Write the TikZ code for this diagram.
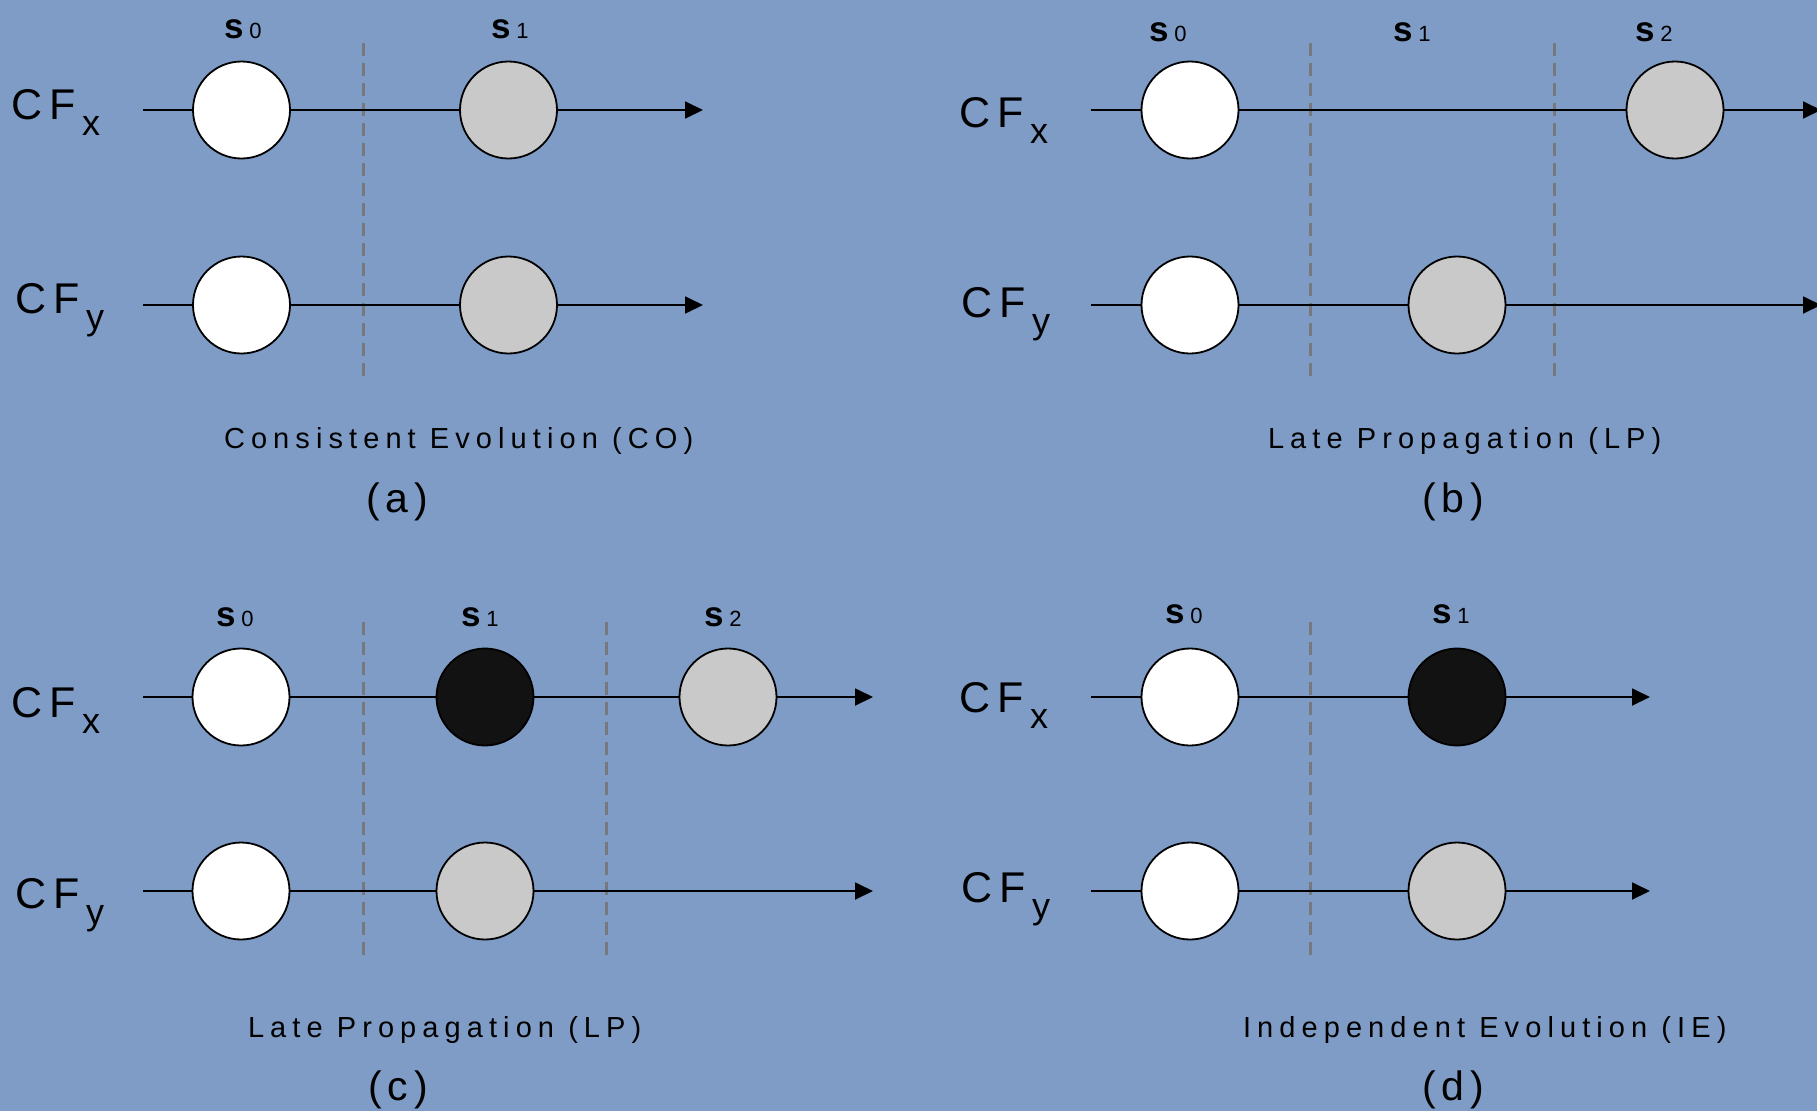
\documentclass[tikz,border=0pt]{standalone}
\usepackage{fontspec}
\setmainfont{Liberation Sans}
\newfontfamily\capfont[LetterSpace=21]{Liberation Sans}
\newfontfamily\cffont[LetterSpace=18]{Liberation Sans}
\newfontfamily\tagfont[LetterSpace=15]{Liberation Sans}
\newfontfamily\statefont{Liberation Sans}
\usetikzlibrary{arrows.meta}

\definecolor{bgblue}{RGB}{126,156,197}
\definecolor{stategray}{RGB}{200,201,200}
\definecolor{stateblack}{RGB}{18,18,18}
\definecolor{dashgray}{RGB}{118,120,125}

% state label such as s0, s1, s2
\newcommand\stlabel[1]{{\statefont\bfseries\fontsize{35}{35}\selectfont s}\kern6pt{\statefont\fontsize{22}{22}\selectfont #1}}
% clone fragment label CF with its index
\newcommand\cflabel[1]{{\cffont\fontsize{43}{43}\selectfont CF\kern6pt\raisebox{-16pt}{\fontsize{36}{36}\selectfont #1}}}

\tikzset{
  cstate/.style={circle, draw=black, line width=1.8pt, minimum size=97pt, inner sep=0pt, outer sep=0pt},
  fresh/.style={cstate, fill=white},
  changed/.style={cstate, fill=stategray},
  diverged/.style={cstate, fill=stateblack},
  flow/.style={line width=1.8pt, draw=black},
  flowend/.style={flow, -{Triangle[length=18pt,width=17pt]}},
  epoch/.style={draw=dashgray, line width=3pt, dash pattern=on 13pt off 7pt},
  txt/.style={inner sep=0pt, outer sep=0pt, anchor=base west, text=black},
  caption/.style={txt, font=\capfont\fontsize{29}{29}\selectfont},
  tag/.style={txt, font=\tagfont\fontsize{41}{41}\selectfont},
}

\begin{document}
\begin{tikzpicture}[x=1pt,y=-1pt]
% background
\clip (0,0) rectangle (1817,1111);
\fill[bgblue] (0,0) rectangle (1817,1111);

% ---------------- (a) Consistent Evolution ----------------
\coordinate (a-d1t) at (363,43);  \coordinate (a-d1b) at (363,380);
\draw[epoch] (a-d1t) -- (a-d1b);
\node[fresh]   (a-x0) at (241.5,110) {};
\node[changed] (a-x1) at (508.5,110) {};
\node[fresh]   (a-y0) at (241.5,305) {};
\node[changed] (a-y1) at (508.5,305) {};
\coordinate (a-xs) at (143,110); \coordinate (a-xe) at (703,110);
\coordinate (a-ys) at (143,305); \coordinate (a-ye) at (703,305);
\draw[flow] (a-xs) -- (a-x0); \draw[flow] (a-x0) -- (a-x1); \draw[flowend] (a-x1) -- (a-xe);
\draw[flow] (a-ys) -- (a-y0); \draw[flow] (a-y0) -- (a-y1); \draw[flowend] (a-y1) -- (a-ye);
\node[txt] (a-s0) at (224,38) {\stlabel{0}};
\node[txt] (a-s1) at (491,38) {\stlabel{1}};
\node[txt] (a-cfx) at (11,119) {\cflabel{x}};
\node[txt] (a-cfy) at (15,313) {\cflabel{y}};
\node[caption] (a-cap) at (224,448) {Consistent Evolution (CO)};
\node[tag] (a-tag) at (366,512) {(a)};

% ---------------- (b) Late Propagation ----------------
\coordinate (b-d1t) at (1310,43);  \coordinate (b-d1b) at (1310,380);
\coordinate (b-d2t) at (1554,43);  \coordinate (b-d2b) at (1554,380);
\draw[epoch] (b-d1t) -- (b-d1b);
\draw[epoch] (b-d2t) -- (b-d2b);
\node[fresh]   (b-x0) at (1190,110) {};
\node[changed] (b-x2) at (1675,110) {};
\node[fresh]   (b-y0) at (1190,305) {};
\node[changed] (b-y1) at (1457,305) {};
\coordinate (b-xs) at (1091,110); \coordinate (b-xe) at (1821,110);
\coordinate (b-ys) at (1091,305); \coordinate (b-ye) at (1821,305);
\draw[flow] (b-xs) -- (b-x0); \draw[flow] (b-x0) -- (b-x2); \draw[flowend] (b-x2) -- (b-xe);
\draw[flow] (b-ys) -- (b-y0); \draw[flow] (b-y0) -- (b-y1); \draw[flowend] (b-y1) -- (b-ye);
\node[txt] (b-s0) at (1149,41) {\stlabel{0}};
\node[txt] (b-s1) at (1393,41) {\stlabel{1}};
\node[txt] (b-s2) at (1635,41) {\stlabel{2}};
\node[txt] (b-cfx) at (959,127) {\cflabel{x}};
\node[txt] (b-cfy) at (961,317) {\cflabel{y}};
\node[caption] (b-cap) at (1268,448) {Late Propagation (LP)};
\node[tag] (b-tag) at (1422,512) {(b)};

% ---------------- (c) Late Propagation ----------------
\coordinate (c-d1t) at (363,622);  \coordinate (c-d1b) at (363,958);
\coordinate (c-d2t) at (606,622);  \coordinate (c-d2b) at (606,958);
\draw[epoch] (c-d1t) -- (c-d1b);
\draw[epoch] (c-d2t) -- (c-d2b);
\node[fresh]    (c-x0) at (241,697) {};
\node[diverged] (c-x1) at (485,697) {};
\node[changed]  (c-x2) at (728,697) {};
\node[fresh]    (c-y0) at (241,891) {};
\node[changed]  (c-y1) at (485,891) {};
\coordinate (c-xs) at (143,697); \coordinate (c-xe) at (873,697);
\coordinate (c-ys) at (143,891); \coordinate (c-ye) at (873,891);
\draw[flow] (c-xs) -- (c-x0); \draw[flow] (c-x0) -- (c-x1); \draw[flow] (c-x1) -- (c-x2); \draw[flowend] (c-x2) -- (c-xe);
\draw[flow] (c-ys) -- (c-y0); \draw[flow] (c-y0) -- (c-y1); \draw[flowend] (c-y1) -- (c-ye);
\node[txt] (c-s0) at (216,626) {\stlabel{0}};
\node[txt] (c-s1) at (461,626) {\stlabel{1}};
\node[txt] (c-s2) at (704,626) {\stlabel{2}};
\node[txt] (c-cfx) at (11,717) {\cflabel{x}};
\node[txt] (c-cfy) at (15,908) {\cflabel{y}};
\node[caption] (c-cap) at (248,1037) {Late Propagation (LP)};
\node[tag] (c-tag) at (368,1100) {(c)};

% ---------------- (d) Independent Evolution ----------------
\coordinate (d-d1t) at (1310,622);  \coordinate (d-d1b) at (1310,958);
\draw[epoch] (d-d1t) -- (d-d1b);
\node[fresh]    (d-x0) at (1190,697) {};
\node[diverged] (d-x1) at (1457,697) {};
\node[fresh]    (d-y0) at (1190,891) {};
\node[changed]  (d-y1) at (1457,891) {};
\coordinate (d-xs) at (1091,697); \coordinate (d-xe) at (1650,697);
\coordinate (d-ys) at (1091,891); \coordinate (d-ye) at (1650,891);
\draw[flow] (d-xs) -- (d-x0); \draw[flow] (d-x0) -- (d-x1); \draw[flowend] (d-x1) -- (d-xe);
\draw[flow] (d-ys) -- (d-y0); \draw[flow] (d-y0) -- (d-y1); \draw[flowend] (d-y1) -- (d-ye);
\node[txt] (d-s0) at (1165,623) {\stlabel{0}};
\node[txt] (d-s1) at (1432,623) {\stlabel{1}};
\node[txt] (d-cfx) at (959,712) {\cflabel{x}};
\node[txt] (d-cfy) at (961,902) {\cflabel{y}};
\node[caption] (d-cap) at (1243,1037) {Independent Evolution (IE)};
\node[tag] (d-tag) at (1422,1100) {(d)};
\end{tikzpicture}
\end{document}
